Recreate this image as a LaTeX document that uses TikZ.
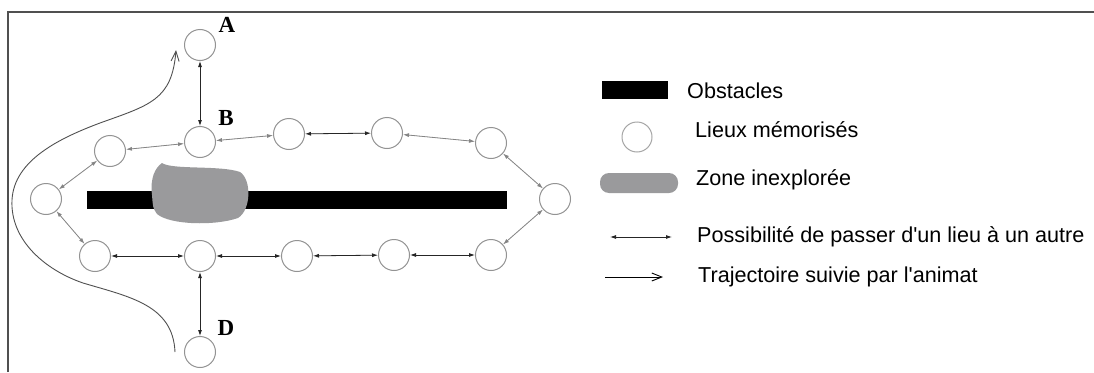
\documentclass[tikz,border=0pt]{standalone}
\usepackage{fontspec}
\setmainfont{Liberation Sans}
\newfontfamily\serifb{Liberation Serif}
\usetikzlibrary{arrows.meta}
\definecolor{zonegray}{HTML}{9A9A9C}
\definecolor{linkgray}{HTML}{858585}
\definecolor{framegray}{HTML}{505050}
\begin{document}
\begin{tikzpicture}[x=1pt,y=-1pt,
  place/.style={circle,draw=gray!85,line width=1pt,minimum size=31pt,inner sep=0pt,fill=white},
  link/.style={{Latex[length=6pt,width=4pt]}-{Latex[length=6pt,width=4pt]},line width=0.8pt},
  glink/.style={link,draw=linkgray,fill=linkgray},
  blink/.style={link,draw=black!85,fill=black!85},
  traj/.style={-{Straight Barb[length=10pt,width=8pt]},line width=0.9pt},
  lab/.style={font=\serifb\bfseries\fontsize{23}{23}\selectfont,inner sep=0pt},
  legtext/.style={anchor=base west,inner sep=0pt,font=\fontsize{21.6}{24}\selectfont},
  zone/.style={fill=zonegray}
]
\useasboundingbox[fill=white] (0,0) rectangle (1094,372);
% frame
\draw[line width=2pt,framegray] (8,372) -- (8,12) -- (1094,12);

% obstacle and unexplored zone
\fill[black] (87,191) rectangle (507,209);
\fill[zone] (152,195) .. controls (150,178) and (155,168) .. (162,163)
  .. controls (172,170) and (220,165) .. (240,172)
  .. controls (252,180) and (251,210) .. (238,218)
  .. controls (215,226) and (170,225) .. (157,214)
  .. controls (153,208) .. cycle;

% places
\node[place] (A)  at (200,45)  {};
\node[place] (B)  at (200,142) {};
\node[place] (t1) at (289,134) {};
\node[place] (t2) at (387,133) {};
\node[place] (t3) at (491,143) {};
\node[place] (R)  at (555,199) {};
\node[place] (r3) at (491,255) {};
\node[place] (b3) at (394,255) {};
\node[place] (b2) at (297,256) {};
\node[place] (C)  at (200,256) {};
\node[place] (b0) at (95,256)  {};
\node[place] (L)  at (46,199)  {};
\node[place] (l1) at (110,151) {};
\node[place] (D)  at (200,352) {};

\node[lab] (la) at (227,25)  {A};
\node[lab] (lb) at (226,118) {B};
\node[lab] (ld) at (226,328) {D};

% links
\draw[blink] (A) -- (B);
\draw[glink] (B) -- (t1);
\draw[blink] (t1) -- (t2);
\draw[glink] (t2) -- (t3);
\draw[glink] (t3) -- (R);
\draw[glink] (R) -- (r3);
\draw[blink] (r3) -- (b3);
\draw[blink] (b3) -- (b2);
\draw[blink] (b2) -- (C);
\draw[blink] (C) -- (b0);
\draw[glink] (b0) -- (L);
\draw[glink] (L) -- (l1);
\draw[glink] (l1) -- (B);
\draw[blink] (C) -- (D);

% trajectory
\coordinate (ts) at (175,352);
\coordinate (te) at (176,50);
\draw[traj,framegray] (ts) .. controls (173,305) and (130,297) .. (83,283)
  .. controls (45,270) and (10,240) .. (12,200)
  .. controls (14,160) and (60,138) .. (100,123)
  .. controls (150,105) and (172,100) .. (te);

% legend
\fill[black] (602,81) rectangle (668,99);
\node[legtext] (t-obs) at (687,98) {Obstacles};
\node[place,minimum size=30pt,draw=gray!70] (legc) at (637,137) {};
\node[legtext] (t-lieux) at (695,137) {Lieux mémorisés};
\fill[zone,rounded corners=9pt] (600,173) rectangle (678,193);
\node[legtext] (t-zone) at (696,185) {Zone inexplorée};
\coordinate (l1a) at (610,237);
\coordinate (l1b) at (672,237);
\draw[blink] (l1a) -- (l1b);
\node[legtext] (t-poss) at (697,242) {Possibilité de passer d\textquotesingle un lieu à un autre};
\coordinate (l2a) at (605,277);
\coordinate (l2b) at (663,277);
\draw[traj,black] (l2a) -- (l2b);
\node[legtext] (t-traj) at (698,282) {Trajectoire suivie par l\textquotesingle animat};
\end{tikzpicture}
\end{document}
